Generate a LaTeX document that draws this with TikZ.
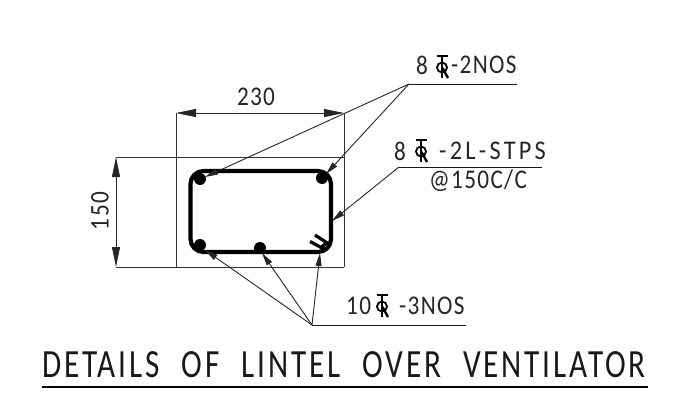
\documentclass[tikz,border=0pt]{standalone}
\usepackage{fontspec}
\setmainfont{Carlito}
\newfontfamily\cadfont[FakeStretch=0.86, LetterSpace=5]{Carlito}
\newfontfamily\cadwide[FakeStretch=0.9, LetterSpace=12]{Carlito}
\newfontfamily\cadtitle[FakeStretch=0.78, LetterSpace=7.2, WordSpace=2.2]{Carlito}
\usetikzlibrary{arrows.meta}

\tikzset{
  dimline/.style={line width=0.9pt, black!85, {Triangle[length=20pt,width=8pt]}-{Triangle[length=20pt,width=8pt]}},
  extline/.style={line width=0.9pt, black!80},
  leader/.style={line width=0.9pt, black!85, -{Triangle[length=13pt,width=6pt]}},
  shelf/.style={line width=1pt, black!90},
  stirrup/.style={line width=4.2pt, rounded corners=13pt},
  txt/.style={inner sep=0pt, font=\cadfont\fontsize{27}{27}\selectfont, text=black!85},
  widetxt/.style={inner sep=0pt, font=\cadwide\fontsize{27}{27}\selectfont, text=black!85},
  titletxt/.style={inner sep=0pt, font=\cadtitle\fontsize{40}{40}\selectfont, text=black!90},
  barsign/.pic={
    \draw[line width=1.8pt] (-5.5,0) -- (5.5,0);
    \draw[line width=1.8pt] (0,0) -- (0,22);
    \draw[line width=1.8pt] (0,11.5) circle (5);
    \draw[line width=2.4pt] (0.5,12) -- (6,22);
  }
}

\begin{document}
\begin{tikzpicture}[x=1pt, y=-1pt]
  \useasboundingbox (0,0) rectangle (677,415);

  % outline of the section
  \draw[extline] (176,113) -- (176,267);
  \draw[extline] (344,113) -- (344,267);
  \draw[extline] (116,157) -- (344,157);
  \draw[extline] (116,267) -- (344,267);

  % dimensions
  \coordinate (wl) at (176,113);
  \coordinate (wr) at (344,113);
  \coordinate (ht) at (116,157);
  \coordinate (hb) at (116,267);
  \draw[dimline] (wl) -- (wr);
  \draw[dimline] (ht) -- (hb);
  \node[txt] (width) at (256,97) {230};
  \node[txt, rotate=90] (height) at (100,211) {150};

  % stirrup, bars, hook
  \draw[stirrup] (190.5,171) rectangle (331,252);
  \fill (200,179) circle (6);
  \fill (322,178) circle (6);
  \fill (200,245) circle (6);
  \fill (260,248) circle (6);
  \draw[line width=3.2pt] (310,241.5) -- (324,249);
  \draw[line width=3.2pt] (315,235) -- (328,243.5);
  \draw[line width=3.2pt] (326,243) -- (321,248);

  % leaders
  \coordinate (topshelf) at (409,84);
  \coordinate (midshelf) at (399,167);
  \coordinate (lowshelf) at (312,325);
  \coordinate (tlbar) at (205,177);
  \coordinate (trbar) at (326,174);
  \coordinate (stirrupside) at (332,221);
  \coordinate (blbar) at (205,250);
  \coordinate (bmbar) at (262,253);
  \coordinate (brbar) at (320,253);
  \draw[leader] (topshelf) -- (tlbar);
  \draw[leader] (topshelf) -- (trbar);
  \draw[leader] (midshelf) -- (stirrupside);
  \draw[leader] (lowshelf) -- (blbar);
  \draw[leader] (lowshelf) -- (bmbar);
  \draw[leader] (lowshelf) -- (brbar);
  \draw[shelf] (topshelf) -- (517,84);
  \draw[shelf] (midshelf) -- (542,167);
  \draw[shelf] (lowshelf) -- (466,325);

  % labels
  \node[txt, anchor=west] (topnum) at (416,65) {8};
  \pic at (442,56) {barsign};
  \node[txt, anchor=west] (toptxt) at (451,65) {-2NOS};
  \node[txt, anchor=west] (midnum) at (394,151) {8};
  \pic at (421,140) {barsign};
  \node[widetxt, anchor=west] (midtxt) at (439,151) {-2L-STPS};
  \node[txt] (spacing) at (478,181) {@150C/C};
  \node[txt, anchor=west] (lownum) at (346,306) {10};
  \pic at (382,295) {barsign};
  \node[txt, anchor=west] (lowtxt) at (399,306) {-3NOS};

  % title
  \node[titletxt] (title) at (344,365) {DETAILS OF LINTEL OVER VENTILATOR};
  \coordinate (tl) at (42,387);
  \coordinate (tr) at (648,387);
  \draw[line width=1.7pt] (tl) -- (tr);
\end{tikzpicture}
\end{document}
